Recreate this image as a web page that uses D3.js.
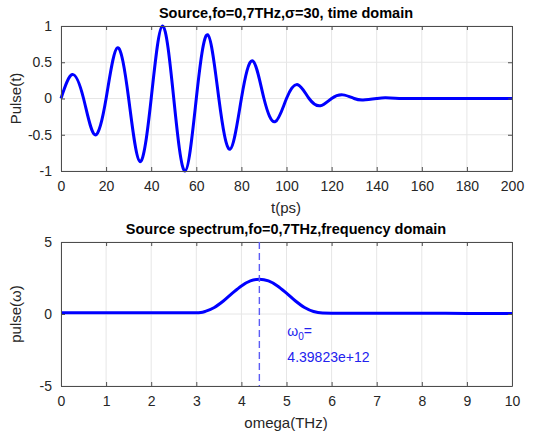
<!DOCTYPE html>
<html>
<head>
<meta charset="utf-8">
<script src="https://cdn.jsdelivr.net/npm/d3@7"></script>
<style>
  body { margin: 0; background: #fff; }
  svg { font-family: "Liberation Sans", Arial, sans-serif; }
  .grid line { stroke: #e6e6e6; stroke-width: 1; }
</style>
</head>
<body>
<div id="chart"></div>
<script>
// 时域脉冲 (t 取峰值和零点)
const timeT = [0, 5, 10, 15, 20, 25, 30, 35, 40, 45, 50, 55, 60, 65, 70, 75, 80, 85, 90, 95,
  100, 105, 110, 115, 120, 125, 130, 134, 140, 144, 150, 160, 170, 180, 190, 200];
const timeVal = [0, 0.33, 0, -0.5, 0, 0.7, 0, -0.87, 0, 1.0, 0, -1.0, 0, 0.88, 0, -0.7, 0, 0.52, 0, -0.32,
  0, 0.19, 0, -0.1, 0, 0.05, 0, -0.02, 0, 0.01, 0, 0, 0, 0, 0, 0];
const timeTicks = [0, 20, 40, 60, 80, 100, 120, 140, 160, 180, 200];
const timeYTicks = [-1, -0.5, 0, 0.5, 1];

// 频谱
const freqW = [0, 1, 2, 3, 3.1, 3.2, 3.4, 3.6, 3.8, 4.0, 4.2, 4.4, 4.6, 4.8, 5.0, 5.2, 5.4, 5.6, 5.8, 6, 7, 8, 9, 10];
const freqVal = [0.08, 0.08, 0.08, 0.08, 0.1, 0.18, 0.45, 0.9, 1.45, 1.95, 2.3, 2.42, 2.3, 1.95, 1.45, 0.9, 0.45, 0.17, 0.07, 0.06, 0.05, 0.05, 0.04, 0.03];
const freqTicks = [0, 1, 2, 3, 4, 5, 6, 7, 8, 9, 10];
const freqYTicks = [-5, 0, 5];
const omega0 = 4.39823;
const omegaLabel = "4.39823e+12";

const width = 545, height = 436;
const svg = d3.select("#chart").append("svg")
  .attr("width", width).attr("height", height);

const fmt = d => String(d); // MATLAB 风格: 用普通减号

function drawPanel(opt) {
  const g = svg.append("g");
  const x = d3.scaleLinear().domain(opt.xDomain).range([61, 512]);
  const y = d3.scaleLinear().domain(opt.yDomain).range([opt.bottom, opt.top]);

  // 网格
  g.append("g").attr("class", "grid")
    .selectAll("line.v").data(opt.xTicks).enter().append("line")
    .attr("x1", d => x(d)).attr("x2", d => x(d))
    .attr("y1", opt.top).attr("y2", opt.bottom);
  g.append("g").attr("class", "grid")
    .selectAll("line.h").data(opt.yTicks).enter().append("line")
    .attr("x1", 61).attr("x2", 512)
    .attr("y1", d => y(d)).attr("y2", d => y(d));

  // 曲线
  const pts = opt.xs.map((v, i) => [v, opt.ys[i]]);
  g.append("path")
    .datum(pts)
    .attr("fill", "none")
    .attr("stroke", "#0000ff")
    .attr("stroke-width", 3)
    .attr("d", d3.line().x(d => x(d[0])).y(d => y(d[1])).curve(opt.curve));

  // 坐标轴 (MATLAB 风格: 刻度朝内, 方框)
  const axisColor = "#4d4d4d";
  const xa = g.append("g").attr("transform", `translate(0,${opt.bottom})`)
    .call(d3.axisBottom(x).tickValues(opt.xTicks).tickFormat(fmt).tickSize(-4).tickPadding(10).tickSizeOuter(0));
  const xa2 = g.append("g").attr("transform", `translate(0,${opt.top})`)
    .call(d3.axisTop(x).tickValues(opt.xTicks).tickSize(-4).tickFormat("").tickSizeOuter(0));
  const ya = g.append("g").attr("transform", "translate(61,0)")
    .call(d3.axisLeft(y).tickValues(opt.yTicks).tickFormat(fmt).tickSize(-4).tickPadding(9).tickSizeOuter(0));
  const ya2 = g.append("g").attr("transform", "translate(512,0)")
    .call(d3.axisRight(y).tickValues(opt.yTicks).tickSize(-4).tickFormat("").tickSizeOuter(0));
  [xa, xa2, ya, ya2].forEach(a => {
    a.selectAll(".domain").attr("stroke", axisColor);
    a.selectAll(".tick line").attr("stroke", axisColor);
    a.selectAll(".tick text").style("font-size", "14px").attr("fill", "#262626");
  });

  g.append("text")
    .attr("x", 286).attr("y", opt.top - 8)
    .attr("text-anchor", "middle")
    .style("font-size", "14.5px").style("font-weight", "bold")
    .attr("fill", "#000")
    .text(opt.title);
  g.append("text")
    .attr("x", 286).attr("y", opt.bottom + 42)
    .attr("text-anchor", "middle")
    .style("font-size", "15px").attr("fill", "#262626")
    .text(opt.xLabel);
  g.append("text")
    .attr("transform", `translate(21,${(opt.top + opt.bottom) / 2}) rotate(-90)`)
    .attr("text-anchor", "middle")
    .style("font-size", "15px").attr("fill", "#262626")
    .text(opt.yLabel);
  return { g, x, y };
}

drawPanel({
  xDomain: [0, 200], yDomain: [-1, 1], top: 26, bottom: 171,
  xTicks: timeTicks, yTicks: timeYTicks, xs: timeT, ys: timeVal,
  curve: d3.curveNatural,
  title: "Source,fo=0,7THz,\u03c3=30, time domain", xLabel: "t(ps)", yLabel: "Pulse(t)"
});

const p2 = drawPanel({
  xDomain: [0, 10], yDomain: [-5, 5], top: 242, bottom: 386,
  xTicks: freqTicks, yTicks: freqYTicks, xs: freqW, ys: freqVal,
  curve: d3.curveMonotoneX,
  title: "Source spectrum,fo=0,7THz,frequency domain", xLabel: "omega(THz)", yLabel: "pulse(\u03c9)"
});

// ω0 标记
p2.g.append("line")
  .attr("x1", p2.x(omega0)).attr("x2", p2.x(omega0))
  .attr("y1", 242).attr("y2", 386)
  .attr("stroke", "#5c5cf5").attr("stroke-width", 1.4)
  .attr("stroke-dasharray", "7,4");
const lbl = p2.g.append("text")
  .attr("x", p2.x(omega0) + 28).attr("y", 336)
  .style("font-size", "14px").attr("fill", "#2222ee");
lbl.append("tspan").text("\u03c9");
lbl.append("tspan").attr("dy", 4).style("font-size", "10px").text("0");
lbl.append("tspan").attr("dy", -4).text("=");
p2.g.append("text")
  .attr("x", p2.x(omega0) + 28).attr("y", 362)
  .style("font-size", "14px").attr("fill", "#2222ee")
  .text(omegaLabel);
</script>
</body>
</html>
